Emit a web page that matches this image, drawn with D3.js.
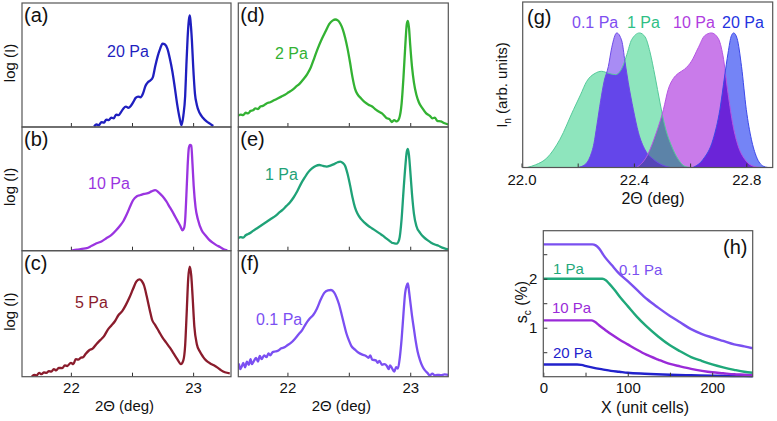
<!DOCTYPE html>
<html>
<head>
<meta charset="utf-8">
<script src="https://cdn.jsdelivr.net/npm/d3@7"></script>
<style>
body { margin: 0; background: #fff; }
svg text { font-family: "Liberation Sans", Arial, sans-serif; }
</style>
</head>
<body>
<svg id="fig" width="777" height="421"></svg>
<script>
// ---- XRD scans (a)-(f): [2theta, log(I) normalised to panel height] ----
var pa20 = [[22.19,0.005],[22.21,0.02],[22.23,0.015],[22.25,0.04],[22.27,0.035],[22.29,0.06],[22.31,0.055],[22.33,0.075],[22.35,0.07],[22.37,0.10],[22.39,0.095],[22.41,0.12],[22.43,0.15],[22.45,0.165],[22.47,0.155],[22.49,0.17],[22.51,0.20],[22.53,0.235],[22.55,0.245],[22.57,0.24],[22.59,0.27],[22.61,0.33],[22.63,0.36],[22.65,0.375],[22.67,0.40],[22.69,0.49],[22.71,0.57],[22.73,0.63],[22.75,0.672],[22.77,0.665],[22.79,0.63],[22.81,0.55],[22.83,0.45],[22.85,0.32],[22.87,0.18],[22.89,0.07],[22.905,0.015],[22.92,0.09],[22.935,0.25],[22.945,0.5],[22.955,0.72],[22.965,0.86],[22.973,0.9],[22.98,0.84],[22.99,0.7],[23.0,0.5],[23.015,0.27],[23.03,0.18],[23.055,0.11],[23.08,0.075],[23.11,0.045],[23.14,0.025],[23.165,0.008]];
var pa10 = [[22.01,0.003],[22.05,0.008],[22.09,0.015],[22.13,0.02],[22.17,0.04],[22.21,0.06],[22.25,0.075],[22.29,0.10],[22.33,0.125],[22.37,0.165],[22.40,0.2],[22.43,0.24],[22.46,0.30],[22.49,0.37],[22.51,0.41],[22.54,0.44],[22.57,0.45],[22.60,0.46],[22.63,0.465],[22.66,0.48],[22.69,0.49],[22.72,0.47],[22.75,0.44],[22.78,0.40],[22.81,0.35],[22.84,0.30],[22.87,0.245],[22.895,0.2],[22.913,0.165],[22.925,0.18],[22.935,0.25],[22.945,0.45],[22.955,0.68],[22.965,0.83],[22.975,0.855],[22.985,0.85],[22.995,0.7],[23.005,0.52],[23.02,0.35],[23.04,0.25],[23.07,0.165],[23.1,0.125],[23.13,0.09],[23.16,0.065],[23.19,0.045],[23.22,0.03],[23.25,0.012],[23.28,0.003]];
var pa5 = [[21.68,0.0],[21.70,0.015],[21.72,0.01],[21.74,0.03],[21.76,0.02],[21.78,0.035],[21.80,0.03],[21.82,0.045],[21.84,0.04],[21.86,0.06],[21.88,0.05],[21.90,0.07],[21.93,0.068],[21.95,0.09],[21.97,0.085],[22.0,0.11],[22.02,0.10],[22.04,0.14],[22.06,0.135],[22.08,0.15],[22.10,0.155],[22.12,0.18],[22.15,0.21],[22.18,0.225],[22.21,0.26],[22.24,0.29],[22.27,0.32],[22.30,0.37],[22.33,0.405],[22.36,0.44],[22.39,0.49],[22.42,0.52],[22.45,0.57],[22.48,0.63],[22.51,0.70],[22.535,0.755],[22.56,0.773],[22.58,0.76],[22.60,0.72],[22.62,0.64],[22.645,0.53],[22.665,0.45],[22.69,0.41],[22.72,0.36],[22.75,0.31],[22.78,0.27],[22.81,0.23],[22.84,0.185],[22.87,0.14],[22.90,0.10],[22.92,0.13],[22.935,0.25],[22.948,0.52],[22.96,0.78],[22.973,0.873],[22.985,0.8],[22.995,0.65],[23.01,0.40],[23.03,0.26],[23.055,0.2],[23.08,0.16],[23.11,0.125],[23.14,0.105],[23.17,0.09],[23.2,0.072],[23.23,0.05],[23.26,0.035],[23.30,0.027]];
var pa2 = [[21.597,0.09],[21.62,0.10],[21.64,0.095],[21.66,0.115],[21.68,0.11],[21.70,0.13],[21.72,0.135],[21.74,0.15],[21.76,0.145],[21.78,0.165],[21.80,0.17],[21.83,0.19],[21.86,0.20],[21.89,0.215],[21.92,0.23],[21.95,0.245],[21.98,0.26],[22.01,0.28],[22.04,0.30],[22.07,0.325],[22.10,0.35],[22.13,0.385],[22.16,0.425],[22.19,0.48],[22.22,0.56],[22.25,0.64],[22.28,0.71],[22.31,0.77],[22.34,0.83],[22.37,0.86],[22.39,0.867],[22.41,0.86],[22.43,0.835],[22.45,0.79],[22.47,0.72],[22.49,0.63],[22.51,0.52],[22.53,0.40],[22.55,0.31],[22.57,0.265],[22.60,0.23],[22.63,0.20],[22.66,0.18],[22.69,0.165],[22.72,0.14],[22.75,0.12],[22.77,0.11],[22.79,0.09],[22.81,0.07],[22.83,0.065],[22.85,0.04],[22.87,0.055],[22.89,0.045],[22.91,0.07],[22.93,0.19],[22.945,0.4],[22.96,0.66],[22.972,0.83],[22.981,0.856],[22.99,0.8],[23.0,0.66],[23.015,0.48],[23.03,0.36],[23.05,0.26],[23.07,0.2],[23.10,0.15],[23.13,0.11],[23.16,0.09],[23.18,0.07],[23.20,0.075],[23.22,0.05],[23.25,0.045],[23.28,0.03],[23.31,0.02]];
var pa1 = [[21.597,0.10],[21.62,0.11],[21.64,0.105],[21.66,0.125],[21.68,0.135],[21.70,0.145],[21.72,0.16],[21.75,0.18],[21.78,0.20],[21.81,0.22],[21.84,0.24],[21.87,0.26],[21.90,0.28],[21.93,0.305],[21.96,0.33],[21.99,0.36],[22.02,0.39],[22.05,0.43],[22.08,0.48],[22.11,0.54],[22.14,0.59],[22.17,0.635],[22.20,0.665],[22.23,0.685],[22.26,0.693],[22.29,0.685],[22.32,0.68],[22.35,0.688],[22.38,0.70],[22.41,0.715],[22.43,0.72],[22.45,0.71],[22.47,0.685],[22.49,0.62],[22.51,0.53],[22.53,0.43],[22.55,0.35],[22.57,0.30],[22.60,0.255],[22.63,0.225],[22.66,0.20],[22.69,0.18],[22.72,0.16],[22.75,0.14],[22.78,0.12],[22.81,0.095],[22.83,0.08],[22.85,0.065],[22.87,0.06],[22.89,0.058],[22.91,0.09],[22.93,0.26],[22.945,0.48],[22.96,0.68],[22.972,0.80],[22.981,0.822],[22.99,0.77],[23.0,0.65],[23.015,0.45],[23.03,0.30],[23.05,0.2],[23.08,0.145],[23.11,0.11],[23.14,0.085],[23.17,0.065],[23.2,0.05],[23.23,0.04],[23.26,0.025],[23.29,0.015],[23.31,0.01]];
var pa01 = [[21.597,0.07],[21.605,0.10],[21.615,0.06],[21.63,0.085],[21.64,0.11],[21.655,0.075],[21.67,0.12],[21.685,0.095],[21.70,0.14],[21.71,0.10],[21.73,0.13],[21.745,0.15],[21.76,0.12],[21.775,0.165],[21.79,0.14],[21.81,0.17],[21.83,0.155],[21.845,0.185],[21.86,0.17],[21.88,0.195],[21.90,0.2],[21.92,0.205],[21.95,0.225],[21.98,0.235],[22.0,0.25],[22.03,0.27],[22.06,0.30],[22.09,0.335],[22.12,0.37],[22.15,0.42],[22.18,0.46],[22.21,0.49],[22.24,0.54],[22.27,0.61],[22.30,0.665],[22.33,0.685],[22.355,0.688],[22.38,0.67],[22.40,0.63],[22.42,0.575],[22.44,0.50],[22.46,0.42],[22.48,0.345],[22.50,0.29],[22.52,0.245],[22.55,0.215],[22.58,0.19],[22.61,0.175],[22.64,0.165],[22.66,0.15],[22.675,0.17],[22.69,0.135],[22.72,0.13],[22.735,0.11],[22.75,0.125],[22.77,0.095],[22.79,0.1],[22.81,0.085],[22.825,0.06],[22.835,0.09],[22.85,0.07],[22.87,0.04],[22.885,0.075],[22.90,0.065],[22.915,0.15],[22.93,0.30],[22.945,0.5],[22.958,0.66],[22.97,0.72],[22.981,0.74],[22.99,0.68],[23.0,0.6],[23.015,0.48],[23.03,0.38],[23.045,0.28],[23.06,0.2],[23.08,0.13],[23.10,0.08],[23.12,0.05],[23.14,0.03],[23.16,0.01],[23.18,0.025],[23.20,0.01],[23.22,0.015],[23.25,0.012],[23.28,0.018],[23.31,0.015]];

var xrdNames = ["20 Pa", "10 Pa", "5 Pa", "2 Pa", "1 Pa", "0.1 Pa"];
var xrdLetters = ["(a)", "(b)", "(c)", "(d)", "(e)", "(f)"];
var xrdTicks = [22, 22.5, 23];

// ---- (g) normalised peaks: [2theta, I_n] ----
var gPa01 = [[22.2,0],[22.225,0.02],[22.244,0.08],[22.258,0.18],[22.268,0.31],[22.282,0.5],[22.294,0.64],[22.309,0.75],[22.321,0.89],[22.339,1.0],[22.357,0.94],[22.368,0.79],[22.38,0.63],[22.398,0.43],[22.416,0.26],[22.44,0.13],[22.47,0.06],[22.505,0.015],[22.53,0]];
var gPa1 = [[22.02,0],[22.05,0.02],[22.09,0.07],[22.137,0.21],[22.185,0.43],[22.21,0.54],[22.232,0.64],[22.262,0.70],[22.285,0.715],[22.31,0.70],[22.335,0.69],[22.36,0.75],[22.375,0.84],[22.392,0.95],[22.42,1.0],[22.44,0.97],[22.457,0.86],[22.475,0.68],[22.493,0.48],[22.51,0.31],[22.534,0.16],[22.558,0.06],[22.58,0.01],[22.60,0]];
var gPa10 = [[22.41,0],[22.445,0.08],[22.48,0.26],[22.505,0.43],[22.522,0.58],[22.54,0.66],[22.558,0.70],[22.58,0.73],[22.605,0.79],[22.629,0.89],[22.652,0.98],[22.676,1.0],[22.70,0.96],[22.717,0.83],[22.735,0.55],[22.753,0.31],[22.771,0.16],[22.795,0.06],[22.824,0.01],[22.85,0]];
var gPa20 = [[22.61,0],[22.646,0.06],[22.682,0.21],[22.706,0.43],[22.723,0.68],[22.735,0.85],[22.747,0.98],[22.755,1.0],[22.767,0.96],[22.783,0.75],[22.80,0.43],[22.818,0.21],[22.836,0.08],[22.86,0.01],[22.877,0]];
var gTicks = [22.0, 22.2, 22.4, 22.6, 22.8];
var gLabelTicks = [22.0, 22.4, 22.8];

// ---- (h) strain profiles: [X unit cells, s_c %] ----
var hPa01 = [[0,2.70],[58,2.70],[62,2.68],[66,2.62],[73,2.44],[81,2.28],[89,2.12],[100,1.95],[111,1.77],[123,1.58],[136,1.41],[150,1.24],[162,1.11],[175,0.97],[188,0.87],[200,0.80],[213,0.73],[226,0.66],[238,0.62],[248,0.58]];
var hPa1 = [[0,2.0],[70,2.0],[74,1.97],[78,1.9],[84,1.78],[92,1.6],[100,1.44],[111,1.22],[122,1.03],[136,0.82],[150,0.64],[162,0.52],[175,0.40],[188,0.32],[200,0.25],[213,0.19],[226,0.14],[238,0.10],[248,0.08]];
var hPa10 = [[0,1.15],[57,1.15],[61,1.12],[66,1.05],[73,0.96],[81,0.86],[90,0.76],[100,0.66],[111,0.55],[122,0.45],[136,0.35],[150,0.26],[162,0.21],[175,0.16],[188,0.12],[200,0.09],[213,0.07],[226,0.05],[238,0.04],[248,0.03]];
var hPa20 = [[0,0.25],[40,0.25],[45,0.24],[52,0.21],[60,0.18],[70,0.15],[80,0.12],[90,0.10],[100,0.08],[120,0.06],[150,0.04],[175,0.03],[200,0.02],[225,0.015],[248,0.01]];
var hXTicks = [0, 50, 100, 150, 200];
var hYTicks = [0.5, 1, 1.5, 2, 2.5];

var svg = d3.select("#fig");
var FRAME = "#555";

// layout of the six scan panels
var xrdData = [pa20, pa10, pa5, pa2, pa1, pa01];
var xrdColors = ["#1f1fbf", "#9a34e0", "#8a1c2c", "#33b233", "#1fa277", "#7b4ff2"];
var cols = [{l: 22, r: 231}, {l: 238.3, r: 448.3}];
var rows = [{t: 3, b: 127}, {t: 127, b: 250.7}, {t: 250.7, b: 376.7}];
var nameXY = [[107, 57], [88, 189], [75, 308], [275, 59], [265, 180], [256, 325]];

xrdData.forEach(function(data, i) {
  var c = cols[Math.floor(i / 3)], r = rows[i % 3];
  var x = d3.scaleLinear().domain([21.6, 23.31]).range([c.l, c.r]);
  var y = d3.scaleLinear().domain([0, 1]).range([r.b, r.t]);
  var g = svg.append("g");

  var clipId = "clip" + i;
  svg.append("clipPath").attr("id", clipId).append("rect")
    .attr("x", c.l).attr("y", r.t).attr("width", c.r - c.l).attr("height", r.b - r.t);

  g.append("path")
    .datum(data)
    .attr("clip-path", "url(#" + clipId + ")")
    .attr("fill", "none")
    .attr("stroke", xrdColors[i])
    .attr("stroke-width", 2.3)
    .attr("stroke-linejoin", "round")
    .attr("d", d3.line().x(function(d) { return x(d[0]); }).y(function(d) { return y(d[1]); }).curve(d3.curveMonotoneX));

  var bottomRow = (i % 3 == 2);
  var ax = g.append("g")
    .attr("transform", "translate(0," + r.b + ")")
    .call(d3.axisBottom(x).tickValues(xrdTicks).tickSizeInner(-4).tickSizeOuter(0).tickPadding(6)
      .tickFormat(function(d) { return bottomRow && d % 1 == 0 ? d : ""; }));
  ax.select(".domain").remove();
  ax.selectAll("line").attr("stroke", "#333");
  ax.selectAll("text").attr("font-size", 15).attr("fill", "#111").attr("font-family", "Liberation Sans, Arial, sans-serif");

  g.append("rect")
    .attr("x", c.l).attr("y", r.t).attr("width", c.r - c.l).attr("height", r.b - r.t)
    .attr("fill", "none").attr("stroke", FRAME).attr("stroke-width", 1.2);

  g.append("text").attr("x", c.l + 2).attr("y", r.t + 19)
    .attr("font-size", 20).attr("fill", "#111").text(xrdLetters[i]);
  g.append("text").attr("x", nameXY[i][0]).attr("y", nameXY[i][1])
    .attr("font-size", 16).attr("fill", xrdColors[i]).text(xrdNames[i]);

  if (i < 3) {
    svg.append("text")
      .attr("transform", "translate(15," + ((r.t + r.b) / 2 - 2) + ") rotate(-90)")
      .attr("text-anchor", "middle").attr("font-size", 15).attr("fill", "#111")
      .text("log (I)");
  }
  if (bottomRow) {
    svg.append("text").attr("x", (c.l + c.r) / 2 - 2).attr("y", 411)
      .attr("text-anchor", "middle").attr("font-size", 15).attr("fill", "#111")
      .text("2\u0398 (deg)");
  }
});

// ---- panel (g) ----
var gBox = {l: 522.7, r: 772.7, t: 2, b: 167.5};
var gx = d3.scaleLinear().domain([22.0, 22.89]).range([521.5, 771.6]);
var gy = d3.scaleLinear().domain([0, 1.23]).range([gBox.b, gBox.t]);
var gArea = d3.area().x(function(d) { return gx(d[0]); }).y0(gBox.b).y1(function(d) { return gy(d[1]); }).curve(d3.curveMonotoneX);
var defs = svg.append("defs");
[["cg1", gPa1], ["cg01", gPa01], ["cg10", gPa10]].forEach(function(p) {
  defs.append("clipPath").attr("id", p[0]).append("path").attr("d", gArea(p[1]));
});
defs.append("clipPath").attr("id", "cgbox").append("rect")
  .attr("x", gBox.l).attr("y", gBox.t).attr("width", gBox.r - gBox.l).attr("height", gBox.b - gBox.t);

var gg = svg.append("g").attr("clip-path", "url(#cgbox)");
// solo fills, then overlaps drawn through clip paths of the other peak
var layers = [
  [gPa1, "#8ee5bd", null, "#55c99a"],
  [gPa01, "#a88cf4", null, "#6d4ae8"],
  [gPa01, "#6446ea", "cg1", null],
  [gPa10, "#c97bea", null, "#b455e2"],
  [gPa10, "#5c83a8", "cg1", null],
  [gPa10, "#5546b8", "cg01", null],
  [gPa20, "#7484f6", null, "#3c48e8"],
  [gPa20, "#6b24d8", "cg10", null]
];
layers.forEach(function(L) {
  var p = gg.append("path").attr("d", gArea(L[0])).attr("fill", L[1]);
  if (L[2]) p.attr("clip-path", "url(#" + L[2] + ")");
});
layers.forEach(function(L) {
  if (!L[3]) return;
  gg.append("path")
    .attr("d", d3.line().x(function(d) { return gx(d[0]); }).y(function(d) { return gy(d[1]); }).curve(d3.curveMonotoneX)(L[0]))
    .attr("fill", "none").attr("stroke", L[3]).attr("stroke-width", 1);
});

var gax = svg.append("g").attr("transform", "translate(0," + gBox.b + ")")
  .call(d3.axisBottom(gx).tickValues(gTicks).tickSizeInner(-4).tickSizeOuter(0).tickPadding(7)
    .tickFormat(function(d) { return gLabelTicks.indexOf(d) >= 0 ? d3.format(".1f")(d) : ""; }));
gax.select(".domain").remove();
gax.selectAll("line").attr("stroke", "#333");
gax.selectAll("text").attr("font-size", 15).attr("fill", "#111").attr("font-family", "Liberation Sans, Arial, sans-serif");
svg.append("rect").attr("x", gBox.l).attr("y", gBox.t).attr("width", gBox.r - gBox.l).attr("height", gBox.b - gBox.t)
  .attr("fill", "none").attr("stroke", FRAME).attr("stroke-width", 1.2);
svg.append("text").attr("x", 527).attr("y", 24).attr("font-size", 20).attr("fill", "#111").text("(g)");

var gNames = ["0.1 Pa", "1 Pa", "10 Pa", "20 Pa"];
var gNameColors = ["#7e4ef0", "#2fbf85", "#b03ce0", "#2433e0"];
var gNameX = [572, 627, 673, 722];
gNames.forEach(function(n, i) {
  svg.append("text").attr("x", gNameX[i]).attr("y", 28).attr("font-size", 16).attr("fill", gNameColors[i]).text(n);
});
svg.append("text").attr("x", 653).attr("y", 203.5).attr("text-anchor", "middle").attr("font-size", 16).attr("fill", "#111").text("2\u0398 (deg)");
var gyl = svg.append("text").attr("transform", "translate(507,85) rotate(-90)")
  .attr("text-anchor", "middle").attr("font-size", 15).attr("fill", "#111");
gyl.append("tspan").text("I");
gyl.append("tspan").attr("dy", 4).attr("font-size", 10).text("n");
gyl.append("tspan").attr("dy", -4).text(" (arb. units)");

// ---- panel (h) ----
var hBox = {l: 543.3, r: 752.7, t: 230.7, b: 376.7};
var hx = d3.scaleLinear().domain([0, 248]).range([hBox.l, hBox.r]);
var hy = d3.scaleLinear().domain([0, 2.98]).range([hBox.b, hBox.t]);
var hLine = d3.line().x(function(d) { return hx(d[0]); }).y(function(d) { return hy(d[1]); }).curve(d3.curveMonotoneX);
var hSeries = [hPa20, hPa10, hPa1, hPa01];
var hColors = ["#2222cc", "#9a2ad8", "#1fa87a", "#7a50f0"];
hSeries.forEach(function(s, i) {
  svg.append("path").attr("d", hLine(s)).attr("fill", "none")
    .attr("stroke", hColors[i]).attr("stroke-width", 2.4);
});
var hxa = svg.append("g").attr("transform", "translate(0," + hBox.b + ")")
  .call(d3.axisBottom(hx).tickValues(hXTicks).tickSizeInner(-4).tickSizeOuter(0).tickPadding(6)
    .tickFormat(function(d) { return d % 100 == 0 ? d : ""; }));
var hya = svg.append("g").attr("transform", "translate(" + hBox.l + ",0)")
  .call(d3.axisLeft(hy).tickValues(hYTicks).tickSizeInner(-4).tickSizeOuter(0).tickPadding(6)
    .tickFormat(function(d) { return d % 1 == 0 ? d : ""; }));
[hxa, hya].forEach(function(a) {
  a.select(".domain").remove();
  a.selectAll("line").attr("stroke", "#333");
  a.selectAll("text").attr("font-size", 15).attr("fill", "#111").attr("font-family", "Liberation Sans, Arial, sans-serif");
});
svg.append("rect").attr("x", hBox.l).attr("y", hBox.t).attr("width", hBox.r - hBox.l).attr("height", hBox.b - hBox.t)
  .attr("fill", "none").attr("stroke", FRAME).attr("stroke-width", 1.2);
svg.append("text").attr("x", 723).attr("y", 254).attr("font-size", 20).attr("fill", "#111").text("(h)");

var hNames = ["20 Pa", "10 Pa", "1 Pa", "0.1 Pa"];
var hNameXY = [[553, 358], [552, 313], [553, 274], [619, 275]];
hNames.forEach(function(n, i) {
  svg.append("text").attr("x", hNameXY[i][0]).attr("y", hNameXY[i][1]).attr("font-size", 15).attr("fill", hColors[i]).text(n);
});
svg.append("text").attr("x", 645).attr("y", 413).attr("text-anchor", "middle").attr("font-size", 16).attr("fill", "#111").text("X (unit cells)");
var hyl = svg.append("text").attr("transform", "translate(527,302) rotate(-90)")
  .attr("text-anchor", "middle").attr("font-size", 16).attr("fill", "#111");
hyl.append("tspan").text("s");
hyl.append("tspan").attr("dy", 4).attr("font-size", 10).text("c");
hyl.append("tspan").attr("dy", -4).text(" (%)");
</script>
</body>
</html>
